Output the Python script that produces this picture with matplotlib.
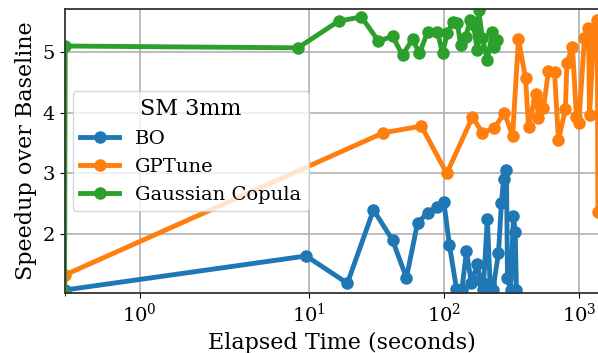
import matplotlib
matplotlib.use("Agg")
import matplotlib.pyplot as plt

plt.rcParams['font.family'] = ['DejaVu Serif']

bo_t = [0.01, 9.55, 19.3, 30.1, 41.7, 52.8, 63.8, 75.7, 88.3, 100, 110, 124, 136, 147,
        160, 177, 186, 196, 210, 220, 231, 254, 267, 277, 291, 296, 312, 328, 338, 345]
bo_s = [1.08, 1.64, 1.19, 2.40, 1.90, 1.28, 2.18, 2.35, 2.45, 2.53, 1.82, 1.10, 1.08, 1.72,
        1.19, 1.51, 1.25, 1.10, 2.25, 1.20, 1.08, 1.69, 2.51, 2.91, 3.06, 1.28, 1.08, 2.30, 2.03, 1.08]

gp_t = [0.0, 0.01, 35.7, 68.2, 105, 163, 193, 237, 281, 323, 357, 403, 424, 478, 490, 502,
        547, 596, 661, 706, 796, 815, 897, 960, 1000, 1101, 1178, 1200, 1290, 1370, 1385]
gp_s = [1.0, 1.33, 3.67, 3.78, 3.00, 3.93, 3.67, 3.75, 4.00, 3.62, 5.21, 4.57, 3.76, 4.31, 4.20, 3.91,
        4.08, 4.69, 4.67, 3.55, 4.06, 4.82, 5.08, 3.93, 3.83, 5.23, 5.40, 3.96, 5.25, 5.53, 2.36]

gc_t = [0.0, 0.01, 8.3, 16.6, 24.5, 32.8, 41.7, 49.4, 58.6, 66, 75.7, 89.7, 97.8, 106, 116,
        126, 133, 145, 157, 166, 177, 181, 193, 210, 229, 235, 249]
gc_s = [1.0, 5.10, 5.07, 5.51, 5.58, 5.18, 5.26, 4.95, 5.21, 4.98, 5.33, 5.33, 4.98, 5.31, 5.49,
        5.48, 5.12, 5.25, 5.53, 5.44, 5.03, 5.69, 5.23, 4.87, 5.33, 5.08, 5.20]

fig = plt.figure(figsize=(5.98, 3.53), dpi=100)
ax = fig.add_axes([0.1079, 0.170, 0.928, 0.8045])

kw = dict(marker='o', markersize=8, linewidth=3.5)
ax.plot(bo_t, bo_s, color='#1f77b4', label='BO', **kw)
ax.plot(gp_t, gp_s, color='#ff7f0e', label='GPTune', **kw)
ax.plot(gc_t, gc_s, color='#2ca02c', label='Gaussian Copula', **kw)

ax.set_xscale('symlog')
ax.set_xlim(0, 2000)
ax.set_ylim(1.03, 5.71)
ax.set_xticks([1, 10, 100, 1000])
ax.set_yticks([2, 3, 4, 5])
ax.grid(True, color='#b0b0b0', linewidth=1.2)
ax.tick_params(labelsize=14)
ax.set_xlabel('Elapsed Time (seconds)', fontsize=16)
ax.set_ylabel('Speedup over Baseline', fontsize=16)
for s in ax.spines.values():
    s.set_linewidth(1.3)
    s.set_color('#333333')

leg = ax.legend(title='SM 3mm', fontsize=14, title_fontsize=16,
                loc='center left', bbox_to_anchor=(0.0144, 0.5), borderaxespad=0)

fig.savefig('out.png', dpi=100)
